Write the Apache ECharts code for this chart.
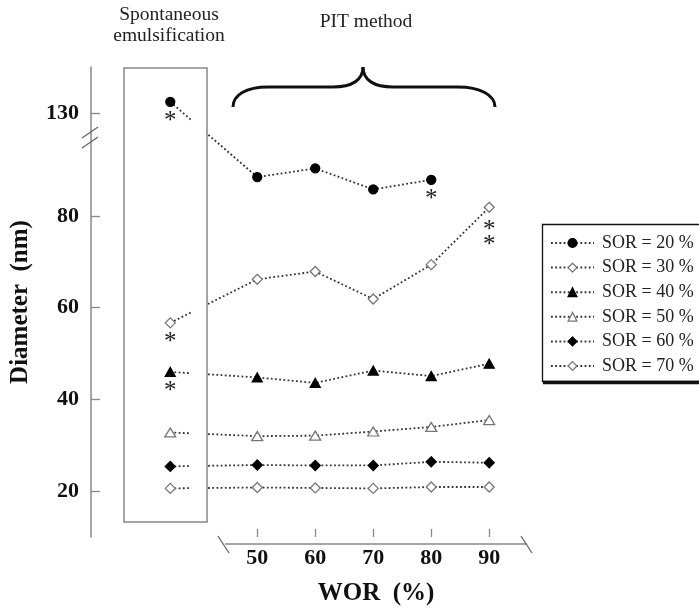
<!DOCTYPE html>
<html>
<head>
<meta charset="utf-8">
<script src="https://cdn.jsdelivr.net/npm/echarts@6/dist/echarts.min.js"></script>
<style>
html,body{margin:0;padding:0;background:#fff;}
#chart{width:699px;height:611px;}
</style>
</head>
<body>
<div id="chart"></div>
<script>
// ---- data ----
// x slot 35 = "Spontaneous emulsification" column; 50..90 = WOR (%) for PIT method
const worSlots = [35, 50, 60, 70, 80, 90];
const xTickValues = [50, 60, 70, 80, 90];
const yTickValues = [20, 40, 60, 80, 130];
const seriesNames = ['SOR = 20 %', 'SOR = 30 %', 'SOR = 40 %', 'SOR = 50 %', 'SOR = 60 %', 'SOR = 70 %'];
const sor20 = [132.4, 88.5, 90.4, 85.8, 87.9, null];
const sor30 = [56.7, 66.2, 67.9, 61.9, 69.4, 81.9];
const sor40 = [46.0, 44.8, 43.6, 46.3, 45.1, 47.8];
const sor50 = [32.8, 32.0, 32.1, 33.0, 34.0, 35.5];
const sor60 = [25.4, 25.7, 25.6, 25.6, 26.4, 26.2];
const sor70 = [20.6, 20.8, 20.7, 20.6, 20.9, 20.9];
// number of significance asterisks under each point
const stars20 = [1, 0, 0, 0, 1, 0];
const stars30 = [1, 0, 0, 0, 0, 2];
const stars40 = [1, 0, 0, 0, 0, 0];
const stars50 = [0, 0, 0, 0, 0, 0];
const stars60 = [0, 0, 0, 0, 0, 0];
const stars70 = [0, 0, 0, 0, 0, 0];

// ---- broken y axis: values above breakLow are shifted down ----
const breakLow = 100, breakShift = 27.5;
function toAxis(v) { return v > breakLow ? v - breakShift : v; }
const yAxisVals = yTickValues.map(toAxis);

const serif = '"Liberation Serif", "Times New Roman", serif';
const lineCol = '#333';
const openCol = '#777';

const styles = [
  { symbol: 'circle', size: 9, fill: '#000', stroke: '#000' },
  { symbol: 'diamond', size: 10, fill: '#fff', stroke: openCol },
  { symbol: 'triangle', size: [10, 9], fill: '#000', stroke: '#000' },
  { symbol: 'triangle', size: [11, 9], fill: '#fff', stroke: openCol },
  { symbol: 'diamond', size: 10, fill: '#000', stroke: '#000' },
  { symbol: 'diamond', size: 10, fill: '#fff', stroke: openCol }
];
const allVals = [sor20, sor30, sor40, sor50, sor60, sor70];
const allStars = [stars20, stars30, stars40, stars50, stars60, stars70];

function buildData(vals, stars) {
  return worSlots.map((x, i) => {
    if (vals[i] == null) return null;
    const item = { value: [x, toAxis(vals[i])] };
    if (stars[i] > 0) {
      const n = stars[i];
      item.label = {
        show: true,
        position: 'inside',
        formatter: Array(n).fill('*').join('\n'),
        fontFamily: serif,
        fontSize: 25,
        lineHeight: 15,
        color: '#222',
        offset: [0, n === 1 ? 20 : 31]
      };
    }
    return item;
  });
}

const series = allVals.map((vals, k) => ({
  name: seriesNames[k],
  type: 'line',
  data: buildData(vals, allStars[k]),
  connectNulls: false,
  symbol: styles[k].symbol,
  symbolSize: styles[k].size,
  showAllSymbol: true,
  itemStyle: { color: styles[k].fill, borderColor: styles[k].stroke, borderWidth: 1.3, opacity: 1 },
  lineStyle: { color: lineCol, width: 1.8, type: [1.8, 2.4] },
  label: { show: false },
  z: 3
}));

const chart = echarts.init(document.getElementById('chart'), null, { renderer: 'canvas' });
chart.setOption({
  animation: false,
  backgroundColor: '#fff',
  grid: { left: 89, right: 151.8, top: 67, bottom: 66 },
  xAxis: {
    type: 'value',
    min: 21.33,
    max: 100,
    axisLine: { show: false },
    splitLine: { show: false },
    axisTick: { show: true, inside: true, length: 8, customValues: xTickValues, lineStyle: { color: '#888', width: 1.3 } },
    axisLabel: { customValues: xTickValues, fontFamily: serif, fontWeight: 'bold', fontSize: 22, color: '#111', margin: 10 },
    name: 'WOR  (%)',
    nameLocation: 'middle',
    nameGap: 44,
    nameTextStyle: { fontFamily: serif, fontWeight: 'bold', fontSize: 25, color: '#111', padding: [0, 0, 0, 114] }
  },
  yAxis: {
    type: 'value',
    min: 10,
    max: 112.5,
    axisLine: { show: true, lineStyle: { color: '#888', width: 1.5 } },
    splitLine: { show: false },
    axisTick: { show: true, inside: true, length: 9, customValues: yAxisVals, lineStyle: { color: '#888', width: 1.3 } },
    axisLabel: {
      customValues: yAxisVals,
      fontFamily: serif, fontWeight: 'bold', fontSize: 22, color: '#111', margin: 12,
      formatter: function (v) {
        const i = yAxisVals.findIndex(a => Math.abs(a - v) < 1e-6);
        return i >= 0 ? String(yTickValues[i]) : '';
      }
    },
    name: 'Diameter  (nm)',
    nameLocation: 'middle',
    nameGap: 58,
    nameTextStyle: { fontFamily: serif, fontWeight: 'bold', fontSize: 25, color: '#111' }
  },
  legend: {
    orient: 'vertical',
    left: 542,
    top: 224,
    width: 156,
    padding: [9, 6, 7, 8],
    itemGap: 4.6,
    itemWidth: 43,
    itemHeight: 11,
    itemStyle: { borderWidth: 1.3 },
    textStyle: { fontFamily: serif, fontSize: 18, color: '#222', lineHeight: 20, padding: [0, 0, 0, 3] },
    backgroundColor: 'transparent',
    borderWidth: 0,
    data: seriesNames
  },
  graphic: [
    // gap in lines at the box edge
    { type: 'rect', z: 100, silent: true, shape: { x: 191, y: 70, width: 15.5, height: 450 }, style: { fill: '#fff' } },
    // spontaneous emulsification box
    { type: 'rect', z: 101, silent: true, shape: { x: 124, y: 68, width: 83, height: 454 }, style: { fill: null, stroke: '#888', lineWidth: 1.5 } },
    // legend frame
    { type: 'rect', z: 101, silent: true, shape: { x: 542.5, y: 224.5, width: 160, height: 157 }, style: { fill: null, stroke: '#111', lineWidth: 1.3 } },
    { type: 'line', z: 101, silent: true, shape: { x1: 543, y1: 382.5, x2: 699, y2: 382.5 }, style: { stroke: '#111', lineWidth: 3.5 } },
    // x axis line with breaks
    { type: 'line', z: 101, silent: true, shape: { x1: 225, y1: 544, x2: 527, y2: 544 }, style: { stroke: '#888', lineWidth: 1.5 } },
    { type: 'line', z: 101, silent: true, shape: { x1: 218, y1: 536, x2: 229, y2: 553 }, style: { stroke: '#666', lineWidth: 1.3 } },
    { type: 'line', z: 101, silent: true, shape: { x1: 521, y1: 536, x2: 532, y2: 553 }, style: { stroke: '#666', lineWidth: 1.3 } },
    // y axis break marks
    { type: 'line', z: 101, silent: true, shape: { x1: 82, y1: 138, x2: 98, y2: 127 }, style: { stroke: '#666', lineWidth: 1.3 } },
    { type: 'line', z: 101, silent: true, shape: { x1: 82, y1: 148, x2: 98, y2: 137 }, style: { stroke: '#666', lineWidth: 1.3 } },
    // brace
    { type: 'bezierCurve', z: 101, silent: true,
      shape: { x1: 233, y1: 107, cpx1: 233, cpy1: 95, cpx2: 246, cpy2: 87, x2: 268, y2: 87 },
      style: { fill: null, stroke: '#111', lineWidth: 3 } },
    { type: 'line', z: 101, silent: true, shape: { x1: 268, y1: 87, x2: 333, y2: 87 }, style: { stroke: '#111', lineWidth: 3 } },
    { type: 'bezierCurve', z: 101, silent: true,
      shape: { x1: 333, y1: 87, cpx1: 352, cpy1: 87, cpx2: 363, cpy2: 80, x2: 363, y2: 67 },
      style: { fill: null, stroke: '#111', lineWidth: 3 } },
    { type: 'bezierCurve', z: 101, silent: true,
      shape: { x1: 363, y1: 67, cpx1: 363, cpy1: 80, cpx2: 374, cpy2: 87, x2: 393, y2: 87 },
      style: { fill: null, stroke: '#111', lineWidth: 3 } },
    { type: 'line', z: 101, silent: true, shape: { x1: 393, y1: 87, x2: 458, y2: 87 }, style: { stroke: '#111', lineWidth: 3 } },
    { type: 'bezierCurve', z: 101, silent: true,
      shape: { x1: 458, y1: 87, cpx1: 480, cpy1: 87, cpx2: 495, cpy2: 95, x2: 495, y2: 107 },
      style: { fill: null, stroke: '#111', lineWidth: 3 } },
    // headings
    { type: 'text', z: 101, silent: true, x: 169, y: 25.5,
      style: { text: 'Spontaneous\nemulsification', fontFamily: serif, fontSize: 19.5, lineHeight: 21, fill: '#222', align: 'center', verticalAlign: 'middle' } },
    { type: 'text', z: 101, silent: true, x: 366, y: 22,
      style: { text: 'PIT method', fontFamily: serif, fontSize: 19.5, fill: '#222', align: 'center', verticalAlign: 'middle' } }
  ],
  series: series
});
</script>
</body>
</html>
